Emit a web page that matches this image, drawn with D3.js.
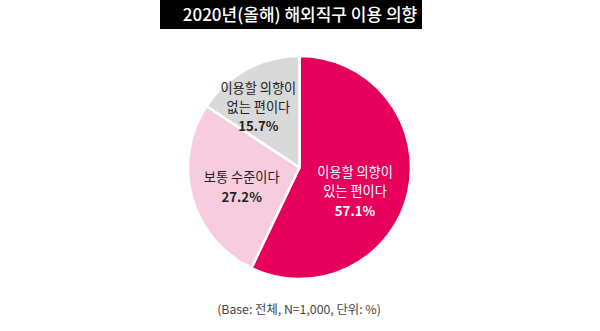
<!DOCTYPE html>
<html><head><meta charset="utf-8">
<script src="https://cdn.jsdelivr.net/npm/d3@7"></script>
<style>body{margin:0;background:#fff;}svg{display:block;}</style>
</head><body>
<svg id="c" width="600" height="331"></svg>
<script>
const title = "2020년(올해) 해외직구 이용 의향";
const categories = ["이용할 의향이 있는 편이다", "보통 수준이다", "이용할 의향이 없는 편이다"];
const values = [57.1, 27.2, 15.7];
const labelLines = [["이용할 의향이", "있는 편이다"], ["보통 수준이다"], ["이용할 의향이", "없는 편이다"]];
const colors = ["#E6005C", "#F8CCDF", "#D9D9D9"];
const textColors = ["#ffffff", "#222222", "#222222"];
const footnote = "(Base: 전체, N=1,000, 단위: %)";

const svg = d3.select("#c");
const font = "'Noto Sans CJK KR', 'Noto Sans', sans-serif";

svg.append("rect").attr("x", 160).attr("y", 0).attr("width", 262).attr("height", 29).attr("fill", "#000");
svg.append("text").attr("x", 300).attr("y", 20.5).attr("text-anchor", "middle")
  .attr("fill", "#fff").attr("font-family", font).attr("font-size", 17).attr("font-weight", 500)
  .text(title);

const cx = 299.5, cy = 167.5, r = 111.5;
const g = svg.append("g").attr("transform", `translate(${cx},${cy})`);
const data = categories.map((c, i) => ({ c, v: values[i], i }));
const pie = d3.pie().value(d => d.v).sort(null);
const arc = d3.arc().innerRadius(0).outerRadius(r);
const arcs = pie(data);
g.selectAll("path").data(arcs).join("path")
  .attr("d", arc).attr("fill", d => colors[d.data.i])
  .attr("stroke", "#fff").attr("stroke-width", 2.5).attr("stroke-linejoin", "round");

// label placement: centroid at a given radius plus a small nudge
const labelPlace = [{ rad: 120, dx: -3, dy: 10.5 }, { rad: 120, dx: 0, dy: 3.5 }, { rad: 140, dx: -8, dy: 1 }];
arcs.forEach((a, k) => {
  const p = labelPlace[k];
  const [x0, y0c] = d3.arc().innerRadius(0).outerRadius(p.rad).centroid(a);
  const x = x0 + p.dx, yc = y0c + p.dy;
  const lines = labelLines[k];
  const lh = 19, pg = 19.5;
  const n = lines.length + 1;
  const span = (n - 2) * lh + pg;
  const first = yc + 5 - span / 2;
  lines.forEach((l, j) => {
    g.append("text").attr("text-anchor", "middle").attr("font-family", font)
      .attr("fill", textColors[k]).attr("font-size", 13.2)
      .attr("x", x).attr("y", first + j * lh).text(l);
  });
  g.append("text").attr("text-anchor", "middle").attr("font-family", font)
    .attr("fill", textColors[k]).attr("font-size", 13.2).attr("font-weight", 700)
    .attr("x", x).attr("y", first + (lines.length - 1) * lh + pg)
    .text(d3.format(".1f")(values[k]) + "%");
});

svg.append("text").attr("x", 299).attr("y", 314).attr("text-anchor", "middle")
  .attr("fill", "#444").attr("font-family", font).attr("font-size", 12.3).text(footnote);
</script>
</body></html>
